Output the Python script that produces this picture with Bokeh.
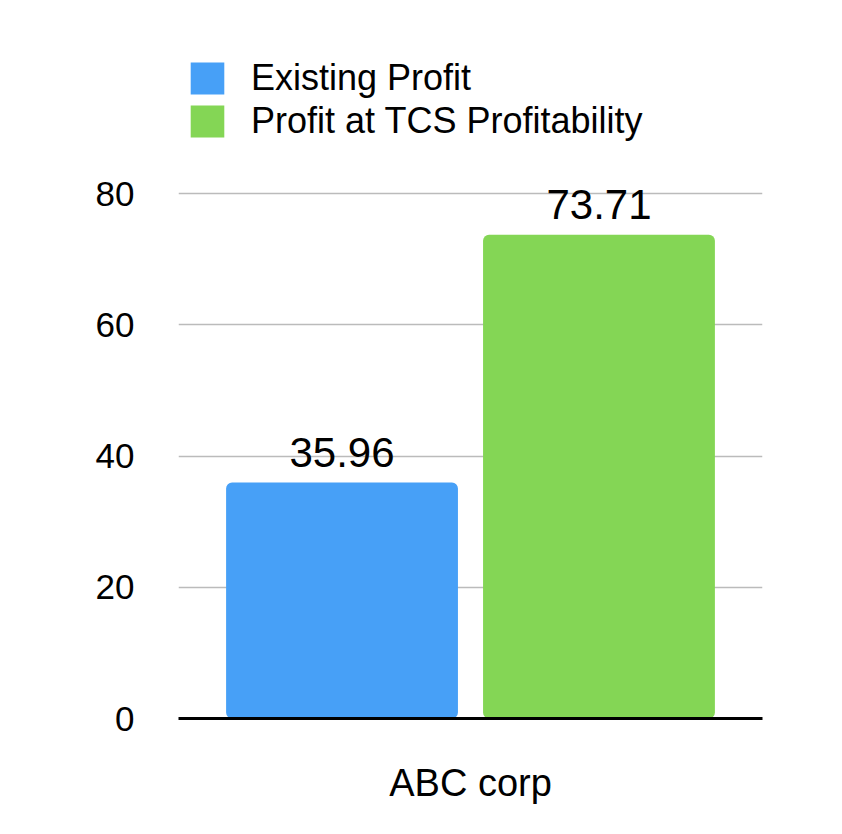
from bokeh.plotting import figure
from bokeh.models import ColumnDataSource, FactorRange, FixedTicker, Range1d, Legend, LegendItem, LabelSet
from bokeh.transform import dodge
from bokeh.core.properties import value
from bokeh.embed import file_html
from bokeh.resources import INLINE

companies = ["ABC corp"]
series_names = ["Existing Profit", "Profit at TCS Profitability"]
existing_profit = [35.96]
tcs_profit = [73.71]
colors = ["#47a0f7", "#84d655"]
y_ticks = [0, 20, 40, 60, 80]

FONT = "Liberation Sans"

src = ColumnDataSource(dict(
    company=companies,
    existing=existing_profit,
    tcs=tcs_profit,
    existing_lbl=[f"{v:.2f}" for v in existing_profit],
    tcs_lbl=[f"{v:.2f}" for v in tcs_profit],
))

W, H = 826, 810
left, right, top, bottom = 178, 64, 49, 92
px_per_unit = 525 / 80.0
frame_h = H - top - bottom
y_end = frame_h / px_per_unit

p = figure(width=W, height=H, output_backend="svg", toolbar_location=None,
           x_range=FactorRange(*companies), y_range=Range1d(0, y_end),
           min_border_left=left, min_border_right=right,
           min_border_top=top, min_border_bottom=bottom)
p.outline_line_color = None
p.background_fill_color = "white"
p.border_fill_color = "white"

r1 = p.vbar(x=dodge("company", -0.22, range=p.x_range), top="existing", width=0.397,
            source=src, fill_color=colors[0], line_color=None, border_radius=6)
r2 = p.vbar(x=dodge("company", 0.22, range=p.x_range), top="tcs", width=0.397,
            source=src, fill_color=colors[1], line_color=None, border_radius=6)

lbl1 = LabelSet(x=dodge("company", -0.22, range=p.x_range), y="existing", text="existing_lbl",
                source=src, text_align="center", text_baseline="alphabetic", y_offset=16,
                text_font=value(FONT), text_font_size=value("42px"), text_color=value("black"))
lbl2 = LabelSet(x=dodge("company", 0.22, range=p.x_range), y="tcs", text="tcs_lbl",
                source=src, text_align="center", text_baseline="alphabetic", y_offset=16,
                text_font=value(FONT), text_font_size=value("42px"), text_color=value("black"))
p.add_layout(lbl1)
p.add_layout(lbl2)

# axes
p.yaxis.ticker = FixedTicker(ticks=y_ticks)
p.yaxis.axis_line_color = None
p.yaxis.major_tick_line_color = None
p.yaxis.minor_tick_line_color = None
p.yaxis.major_label_standoff = 38
p.yaxis.major_label_text_font = FONT
p.yaxis.major_label_text_font_size = "35px"
p.yaxis.major_label_text_color = "black"

p.xaxis.axis_line_color = "black"
p.xaxis.axis_line_width = 3
p.xaxis.major_tick_line_color = None
p.xaxis.minor_tick_line_color = None
p.xaxis.major_label_standoff = 37
p.xaxis.major_label_text_font = FONT
p.xaxis.major_label_text_font_size = "38px"
p.xaxis.major_label_text_color = "black"

p.xgrid.grid_line_color = None
p.ygrid.ticker = FixedTicker(ticks=y_ticks)
p.ygrid.grid_line_color = "#bbbbbb"
p.ygrid.grid_line_width = 1.5

legend = Legend(items=[LegendItem(label=series_names[0], renderers=[r1]),
                       LegendItem(label=series_names[1], renderers=[r2])],
                location="top_left", margin=8, padding=9, spacing=1,
                glyph_width=42, glyph_height=40, label_standoff=23,
                label_text_font=FONT, label_text_font_size="36px",
                label_text_color="black", border_line_color=None,
                background_fill_alpha=0)
p.add_layout(legend)

open("out.html", "w").write(file_html(p, INLINE))
